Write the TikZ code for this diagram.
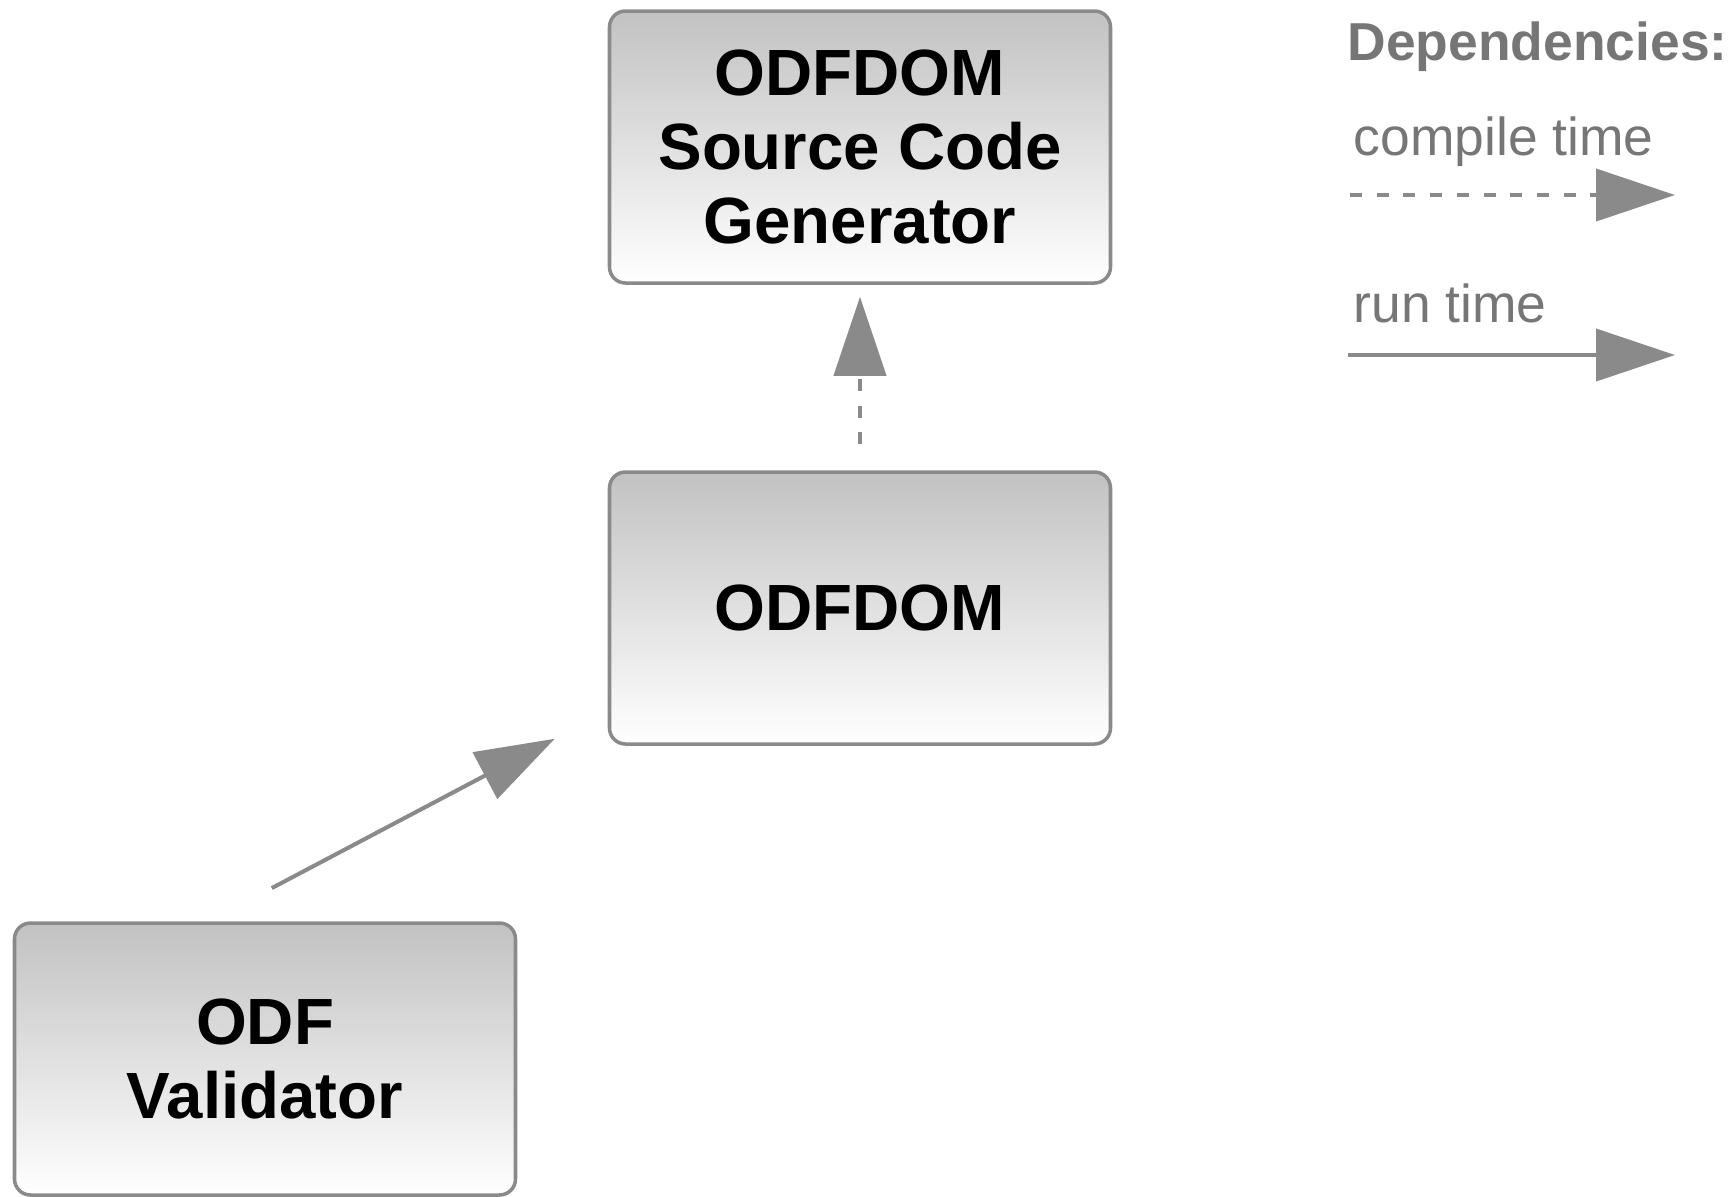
\documentclass[tikz,border=0pt]{standalone}
\usepackage{fontspec}
\setmainfont{Liberation Sans}
\usepackage{xcolor}
\usetikzlibrary{arrows.meta}
\definecolor{linegray}{RGB}{138,138,138}
\definecolor{legendgray}{RGB}{118,118,118}

\begin{document}
\begin{tikzpicture}[x = 0.1mm, y = -0.1mm]
        \tikzstyle{module} = [rectangle, rounded corners = 1.6mm, draw = linegray, line width = 1pt, top color = black!24, bottom color = white, minimum width = 50.1mm, minimum height = 27.2mm, align = center, font = \fontsize{18.6}{21}\selectfont\bfseries]
        \tikzstyle{legend} = [anchor = base west, inner sep = 0, text = legendgray, font = \fontsize{15.2}{17}\selectfont]
        \tikzstyle{dep} = [draw = linegray, line width = 1.15pt, -{Triangle[length = 7.9mm, width = 5.2mm]}]
        \tikzstyle{compile} = [dep, dash pattern = on 3.4pt off 4.2pt]
        \useasboundingbox (0, 0) rectangle (1735, 1196);

        \node(Generator)[module] at (860, 147) {ODFDOM\\Source Code\\Generator};
        \node(ODFDOM)[module] at (860, 608) {ODFDOM};
        \node(Validator)[module] at (265, 1059) {ODF\\Validator};
        \draw [compile, shorten <= 2.6mm, shorten >= 1.2mm] (ODFDOM) -- (Generator);
        \draw [dep, shorten <= 7.1mm] ([xshift = -5.6mm]Validator.north) -- ([xshift = -5.3mm, yshift = 0.7mm]ODFDOM.south west);

        % legend
        \node(Dependencies)[legend, font = \fontsize{15.2}{17}\selectfont\bfseries] at (1347, 60) {Dependencies:};
        \node(compile time)[legend] at (1353, 155) {compile time};
        \coordinate (compile start) at (1350, 195);
        \coordinate (compile end) at (1675, 195);
        \draw [compile] (compile start) -- (compile end);
        \node(run time)[legend] at (1353, 322) {run time};
        \coordinate (run start) at (1348, 355);
        \coordinate (run end) at (1675, 355);
        \draw [dep] (run start) -- (run end);

    \end{tikzpicture}
\end{document}
